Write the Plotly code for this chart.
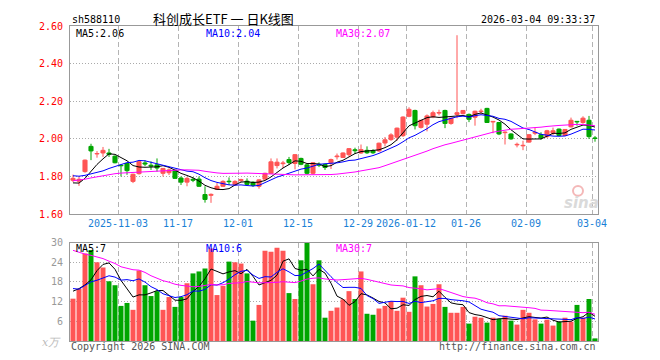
import pandas as pd
import plotly.graph_objects as go

# ---------------- data ----------------
holidays = ["2026-01-01", "2026-01-02", "2026-02-16", "2026-02-17", "2026-02-18",
            "2026-02-19", "2026-02-20", "2026-02-23"]
dates = [d.strftime("%Y-%m-%d") for d in pd.bdate_range("2025-10-22", "2026-03-04")
         if d.strftime("%Y-%m-%d") not in holidays]

tick_dates = ["2025-11-03", "2025-11-17", "2025-12-01", "2025-12-15", "2025-12-29",
              "2026-01-12", "2026-01-26", "2026-02-09", "2026-03-04"]
tick_text = ["2025-11-03", "11-17", "12-01", "12-15", "12-29",
             "2026-01-12", "01-26", "02-09", "03-04"]

opens = [1.780, 1.775, 1.826, 1.960, 1.920, 1.925, 1.925, 1.908, 1.860, 1.869,
         1.774, 1.815, 1.872, 1.860, 1.862, 1.817, 1.820, 1.834, 1.792, 1.770,
         1.785, 1.786, 1.704, 1.700, 1.731, 1.748, 1.775, 1.756, 1.778, 1.775,
         1.769, 1.748, 1.786, 1.817, 1.858, 1.868, 1.890, 1.869, 1.896, 1.862,
         1.817, 1.865, 1.864, 1.873, 1.905, 1.901, 1.916, 1.942, 1.925, 1.939,
         1.938, 1.936, 1.978, 1.996, 2.009, 2.017, 2.120, 2.151, 2.061, 2.078,
         2.117, 2.137, 2.151, 2.082, 2.130, 2.134, 2.130, 2.115, 2.145, 2.162,
         2.090, 2.087, 2.033, 2.026, 1.968, 1.963, 1.983, 2.030, 2.022, 2.012,
         2.030, 2.052, 2.018, 2.064, 2.093, 2.087, 2.099, 2.005]
highs = [1.810, 1.800, 1.890, 1.974, 1.935, 1.957, 1.947, 1.912, 1.862, 1.872,
         1.815, 1.882, 1.886, 1.880, 1.896, 1.845, 1.843, 1.836, 1.800, 1.798,
         1.795, 1.800, 1.748, 1.710, 1.765, 1.780, 1.795, 1.780, 1.788, 1.790,
         1.775, 1.785, 1.820, 1.896, 1.896, 1.883, 1.904, 1.918, 1.900, 1.865,
         1.876, 1.875, 1.867, 1.895, 1.922, 1.928, 1.950, 1.953, 1.970, 1.960,
         1.945, 1.980, 2.010, 2.030, 2.060, 2.120, 2.168, 2.155, 2.100, 2.130,
         2.150, 2.155, 2.155, 2.112, 2.551, 2.153, 2.135, 2.150, 2.160, 2.165,
         2.095, 2.090, 2.040, 2.030, 1.980, 1.990, 2.025, 2.060, 2.035, 2.048,
         2.060, 2.055, 2.052, 2.113, 2.095, 2.120, 2.122, 2.015]
lows = [1.770, 1.750, 1.820, 1.887, 1.900, 1.904, 1.904, 1.870, 1.800, 1.809,
        1.765, 1.810, 1.855, 1.835, 1.826, 1.800, 1.808, 1.790, 1.755, 1.748,
        1.770, 1.745, 1.661, 1.660, 1.728, 1.745, 1.755, 1.750, 1.770, 1.750,
        1.745, 1.735, 1.785, 1.815, 1.843, 1.845, 1.862, 1.838, 1.860, 1.810,
        1.810, 1.850, 1.835, 1.840, 1.890, 1.900, 1.905, 1.920, 1.920, 1.920,
        1.920, 1.930, 1.960, 1.990, 1.990, 2.010, 2.115, 2.050, 2.055, 2.040,
        2.110, 2.125, 2.057, 2.075, 2.110, 2.130, 2.089, 2.070, 2.130, 2.085,
        2.030, 2.020, 1.970, 1.995, 1.955, 1.940, 1.980, 2.020, 1.995, 2.005,
        2.020, 2.015, 2.015, 2.060, 2.070, 2.080, 2.000, 1.985]
closes = [1.790, 1.785, 1.887, 1.936, 1.922, 1.939, 1.918, 1.873, 1.857, 1.831,
          1.812, 1.879, 1.866, 1.855, 1.845, 1.843, 1.835, 1.790, 1.770, 1.790,
          1.780, 1.748, 1.678, 1.705, 1.748, 1.774, 1.772, 1.774, 1.784, 1.758,
          1.753, 1.782, 1.817, 1.878, 1.876, 1.872, 1.874, 1.916, 1.865, 1.817,
          1.873, 1.860, 1.848, 1.890, 1.909, 1.925, 1.948, 1.937, 1.943, 1.926,
          1.926, 1.977, 1.995, 2.021, 2.057, 2.116, 2.157, 2.070, 2.099, 2.122,
          2.139, 2.140, 2.082, 2.110, 2.139, 2.151, 2.104, 2.147, 2.148, 2.087,
          2.093, 2.026, 2.036, 2.000, 1.971, 1.966, 2.022, 2.035, 2.005, 2.043,
          2.043, 2.018, 2.050, 2.099, 2.090, 2.110, 2.012, 2.002]
volumes = [12.9, 15.9, 26.7, 27.7, 24.0, 22.4, 18.2, 17.0, 10.7, 11.6,
           9.5, 21.5, 17.0, 13.7, 15.2, 9.5, 13.4, 10.4, 13.4, 17.6,
           20.6, 21.2, 22.1, 28.2, 14.0, 16.8, 24.2, 24.0, 23.6, 20.6,
           6.2, 11.0, 27.5, 27.2, 28.4, 27.5, 14.6, 12.8, 24.6, 29.9,
           17.3, 24.6, 7.1, 9.2, 10.2, 12.7, 15.2, 12.8, 21.2, 8.3,
           8.0, 9.9, 10.7, 12.2, 9.2, 13.2, 8.9, 19.7, 17.0, 10.5,
           11.3, 17.3, 10.4, 8.6, 8.6, 10.4, 5.3, 7.4, 7.1, 5.6,
           7.1, 6.7, 7.7, 6.2, 5.0, 9.5, 8.6, 6.6, 5.3, 6.5,
           4.7, 5.9, 7.1, 5.9, 11.0, 7.1, 12.8, 0.8]

# 29 sessions before the window (estimated from where the MA lines start)
pre_close = [1.70, 1.72, 1.73, 1.74, 1.75, 1.74, 1.75, 1.76,
             1.77, 1.78, 1.80, 1.79, 1.80, 1.78, 1.79,
             1.78, 1.77, 1.76, 1.78, 1.785,
             1.81, 1.84, 1.86, 1.85, 1.85,
             1.79, 1.76, 1.75, 1.74]
pre_vol = [36, 41, 39, 37, 39, 42, 38, 41, 26, 22, 25, 38, 44, 39,
           31, 27, 29, 24, 27, 24, 18, 15, 17, 19, 15, 12, 21, 20, 10]

ma_periods = [5, 10, 30]
price_ma_text = ["MA5:2.06", "MA10:2.04", "MA30:2.07"]
vol_ma_text = ["MA5:7", "MA10:6", "MA30:7"]
price_ticks = [1.60, 1.80, 2.00, 2.20, 2.40, 2.60]
vol_ticks = [6, 12, 18, 24, 30]

# ---------------- styling ----------------
UP, DOWN = "#ff5555", "#00a600"
MA_COLORS = ["#000000", "#0000ff", "#ff00ff"]
MONO = "DejaVu Sans Mono"
OFF = 8                      # page body margin of the html page
W, H = 660 - OFF, 360 - OFF
L, T = 70 - OFF, 20 - OFF    # plot area starts at page (70, 20)
R = W - (598 - OFF)
B = H - (341 - OFF)
PW, PH = W - L - R, H - T - B


def px(x):          # page pixel -> paper
    return (x - OFF - L) / PW


def py(y):
    return (H - B - (y - OFF)) / PH


n = len(closes)
xc = [i + 0.5 for i in range(n)]
up = [c >= o for o, c in zip(opens, closes)]
colors = [UP if u else DOWN for u in up]

full_close = pd.Series(pre_close + closes)
full_vol = pd.Series(pre_vol + volumes)
price_ma = [full_close.rolling(p).mean().tolist()[-n:] for p in ma_periods]
vol_ma = [full_vol.rolling(p).mean().tolist()[-n:] for p in ma_periods]

fig = go.Figure()

# wicks
for flag, col in [(True, UP), (False, DOWN)]:
    wx, wy = [], []
    for i in range(n):
        if up[i] == flag:
            wx += [xc[i], xc[i], None]
            wy += [lows[i], highs[i], None]
    fig.add_trace(go.Scatter(x=wx, y=wy, mode="lines", line=dict(color=col, width=1),
                             hoverinfo="skip", xaxis="x", yaxis="y"))

# bodies
fig.add_trace(go.Bar(x=xc, y=[abs(c - o) for o, c in zip(opens, closes)],
                     base=[min(o, c) for o, c in zip(opens, closes)], width=0.68,
                     marker=dict(color=colors, line=dict(color=colors, width=1)),
                     xaxis="x", yaxis="y"))

for ma, col in zip(price_ma, MA_COLORS):
    fig.add_trace(go.Scatter(x=xc, y=ma, mode="lines", line=dict(color=col, width=1),
                             xaxis="x", yaxis="y"))

# volume
fig.add_trace(go.Bar(x=xc, y=volumes, width=0.83, marker=dict(color=colors, line=dict(width=0)),
                     xaxis="x2", yaxis="y2"))
for ma, col in zip(vol_ma, MA_COLORS):
    fig.add_trace(go.Scatter(x=xc, y=ma, mode="lines", line=dict(color=col, width=1),
                             xaxis="x2", yaxis="y2"))

tick_idx = [dates.index(d) for d in tick_dates]
main_bottom = py(211.7)
vol_top = py(240.7)

axis_common = dict(showline=True, mirror=True, linecolor="#999999", linewidth=1,
                   zeroline=False, ticks="", fixedrange=True)

fig.update_layout(
    width=W, height=H, margin=dict(l=L, r=R, t=T, b=B),
    paper_bgcolor="white", plot_bgcolor="white", showlegend=False,
    barmode="overlay", hovermode=False,
    font=dict(family=MONO, size=10, color="#000000"),
    xaxis=dict(domain=[0, 1], range=[0, n], anchor="y", tickvals=tick_idx, ticktext=tick_text,
               tickfont=dict(family=MONO, size=10, color="#1a7fd6"),
               showgrid=True, gridcolor="#b4b4b4", griddash="5px,3px", gridwidth=1,
               **axis_common),
    yaxis=dict(domain=[main_bottom, 1], range=[1.60, 2.60], anchor="x",
               tickvals=price_ticks, ticktext=["%.2f" % v for v in price_ticks],
               tickfont=dict(family=MONO, size=10, color="#ff0000"),
               showgrid=True, gridcolor="#aaaaaa", griddash="1px,2px", gridwidth=1,
               ticklabelstandoff=4, **axis_common),
    xaxis2=dict(domain=[0, 1], range=[0, n], anchor="y2", matches="x", tickvals=tick_idx,
                showticklabels=False, showgrid=True, gridcolor="#b4b4b4",
                griddash="5px,3px", gridwidth=1, **axis_common),
    yaxis2=dict(domain=[0, vol_top], range=[0, 30], anchor="x2", tickvals=vol_ticks,
                ticktext=[str(v) for v in vol_ticks],
                tickfont=dict(family=MONO, size=10, color="#999999"),
                showgrid=True, gridcolor="#aaaaaa", griddash="1px,2px", gridwidth=1,
                ticklabelstandoff=4, **axis_common),
)

ann = []


def text(x, y, s, color="#000000", anchor="left", size=10, family=MONO, **kw):
    ann.append(dict(x=px(x), y=py(y), xref="paper", yref="paper", text=s, showarrow=False,
                    xanchor=anchor, yanchor="middle",
                    font=dict(family=family, size=size, color=color), **kw))


text(70, 13, "sh588110")
text(223, 12, "科创成长ETF 一 日K线图", anchor="center", size=13, family="Noto Sans CJK SC")
text(597, 13, "2026-03-04 09:33:37", anchor="right")
for s, x, col in zip(price_ma_text, [74, 204, 334], MA_COLORS):
    text(x, 27.5, s, color=col)
for s, x, col in zip(vol_ma_text, [74, 204, 334], MA_COLORS):
    text(x, 247, s, color=col)
text(69, 347, "Copyright 2026 SINA.COM", color="#555555")
text(598, 347, "http://finance.sina.com.cn", color="#555555", anchor="right")
text(63, 343, "<i>x万</i>", color="#bbbbbb", anchor="right", size=11, family="DejaVu Serif")
text(581, 200, "<b><i>sina</i></b>", color="#dadada", anchor="center", size=15,
     family="DejaVu Sans")
fig.update_layout(annotations=ann)
fig.add_shape(type="circle", xref="paper", yref="paper", x0=px(573), x1=px(583),
              y0=py(193), y1=py(183), line=dict(color="#f4b8b8", width=2),
              fillcolor="rgba(0,0,0,0)")

fig.write_html("out.html")
